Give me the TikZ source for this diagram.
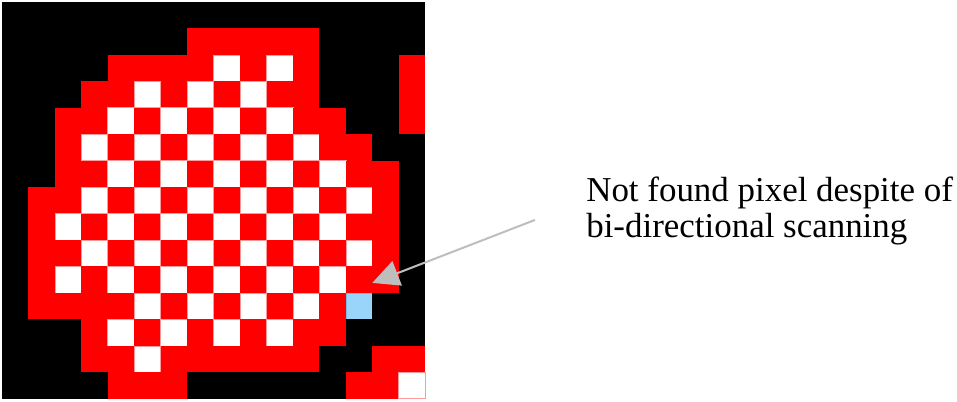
\documentclass[tikz,border=0pt]{standalone}
\usepackage{fontspec}
\setmainfont{Liberation Serif}
\usetikzlibrary{arrows.meta}
\usetikzlibrary{calc}
\usetikzlibrary{positioning}
\definecolor{pxred}{HTML}{FF0000}
\definecolor{pxpink}{HTML}{FF9A9A}
\definecolor{pxblue}{HTML}{99D4FB}
\definecolor{pxblueline}{HTML}{7FB8E0}
\definecolor{pxgray}{HTML}{BEBEBE}
\tikzset{
  pxB/.style={fill=black},
  pxR/.style={fill=pxred},
  pxW/.style={fill=white, draw=pxpink, line width=0.5pt},
  pxL/.style={fill=pxblue, draw=pxblueline, line width=0.5pt},
  pxnote/.style={
    anchor=base west, align=left, inner sep=0pt,
    font=\fontsize{26.2}{27.4}\selectfont},
  pxarrow/.style={
    -{Triangle[length=20pt, width=19.5pt]}, draw=pxgray, fill=pxgray,
    line width=1.5pt},
}

\begin{document}
\begin{tikzpicture}[x=19.84pt, y=-19.84pt]

% Page frame.
\useasboundingbox (-0.0756, -0.0756) rectangle (36.106, 15.123);
\fill[white] (-0.0756, -0.0756) rectangle (36.106, 15.123);

% Pixel grid, one row per entry.
\foreach \row/\cells in {%
    0/{B,B,B,B,B,B,B,B,B,B,B,B,B,B,B,B},
    1/{B,B,B,B,B,B,B,R,R,R,R,R,B,B,B,B},
    2/{B,B,B,B,R,R,R,R,W,R,W,R,B,B,B,R},
    3/{B,B,B,R,R,W,R,W,R,W,R,R,B,B,B,R},
    4/{B,B,R,R,W,R,W,R,W,R,W,R,R,B,B,R},
    5/{B,B,R,W,R,W,R,W,R,W,R,W,R,R,B,B},
    6/{B,B,R,R,W,R,W,R,W,R,W,R,W,R,R,B},
    7/{B,R,R,W,R,W,R,W,R,W,R,W,R,W,R,B},
    8/{B,R,W,R,W,R,W,R,W,R,W,R,W,R,R,B},
    9/{B,R,R,W,R,W,R,W,R,W,R,W,R,W,R,B},
    10/{B,R,W,R,W,R,W,R,W,R,W,R,W,R,R,B},
    11/{B,R,R,R,R,W,R,W,R,W,R,W,R,L,B,B},
    12/{B,B,B,R,W,R,W,R,W,R,W,R,R,B,B,B},
    13/{B,B,B,R,R,W,R,R,R,R,R,R,B,B,R,R},
    14/{B,B,B,B,R,R,R,B,B,B,B,B,B,R,R,W}} {
  \foreach \c [count=\col from 0] in \cells
    \path[px\c] (\col, \row) rectangle ++(1, 1);
}

% The missed pixel and its note.
\coordinate (missed) at (14, 10.62);
\node[pxnote] (note) at (22.08, 8.92)
  {Not found pixel despite of\\bi-directional scanning};
\coordinate (tail) at ($(note.base west) + (-1.93, -0.68)$);
\draw[pxarrow] (tail) -- (missed);

\end{tikzpicture}
\end{document}
